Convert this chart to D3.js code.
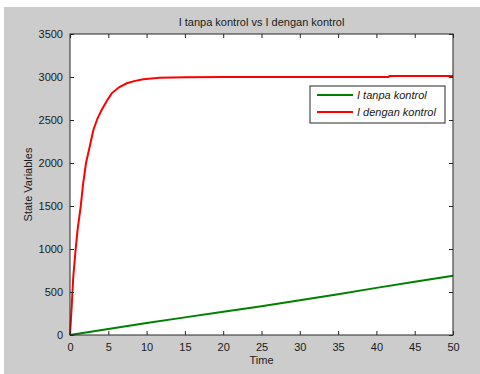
<!DOCTYPE html>
<html>
<head>
<meta charset="utf-8">
<script src="https://cdn.jsdelivr.net/npm/d3@7"></script>
<style>
  body { margin: 0; background: #fff; }
  text { font-family: "Liberation Sans", Arial, sans-serif; fill: #1a1a1a; }
</style>
</head>
<body>
<svg id="chart" width="480" height="374"></svg>
<script>
// data
var timeRed = [0, 0.22, 0.43, 0.74, 1.0, 1.39, 1.7, 2.09, 2.6, 3.05, 3.6, 4.13, 4.8, 5.44, 6.4, 7.4, 8.5, 9.57, 11.7, 15, 20, 25, 30, 35, 41.6, 41.7, 50];
var iDengan = [0, 330, 680, 1000, 1230, 1490, 1750, 2000, 2200, 2384, 2520, 2616, 2720, 2810, 2880, 2927, 2955, 2973, 2992, 2997, 3000, 3000, 3000, 3000, 3000, 3012, 3012];
var timeGreen = [0, 5, 10, 15, 20, 25, 30, 35, 40, 45, 50];
var iTanpa = [0, 70, 140, 205, 270, 335, 405, 475, 548, 620, 690];
var xTicks = [0, 5, 10, 15, 20, 25, 30, 35, 40, 45, 50];
var yTicks = [0, 500, 1000, 1500, 2000, 2500, 3000, 3500];
var seriesNames = ["I tanpa kontrol", "I dengan kontrol"];
var seriesColors = ["#008000", "#ff0000"];

var svg = d3.select("#chart");
var pLeft = 70, pRight = 453, pTop = 34, pBottom = 335;

svg.append("rect")
    .attr("x", 4).attr("y", 7)
    .attr("width", 476).attr("height", 367)
    .attr("fill", "#cccccc");

var x = d3.scaleLinear().domain([0, 50]).range([pLeft, pRight]);
var y = d3.scaleLinear().domain([0, 3500]).range([pBottom, pTop]);

svg.append("rect")
    .attr("x", pLeft).attr("y", pTop)
    .attr("width", pRight - pLeft).attr("height", pBottom - pTop)
    .attr("fill", "#fff");

// lines
var line = d3.line()
    .x(function(d) { return x(d[0]); })
    .y(function(d) { return y(d[1]); });

svg.append("path")
    .datum(d3.zip(timeGreen, iTanpa))
    .attr("d", line)
    .attr("fill", "none")
    .attr("stroke", seriesColors[0])
    .attr("stroke-width", 2);

svg.append("path")
    .datum(d3.zip(timeRed, iDengan))
    .attr("d", line)
    .attr("fill", "none")
    .attr("stroke", seriesColors[1])
    .attr("stroke-width", 2);

// axes, ticks inward on all four sides
var axisColor = "#262626";
function styleAxis(g) {
    g.select(".domain").remove();
    g.selectAll(".tick line").attr("stroke", axisColor);
    g.selectAll(".tick text")
        .style("font-size", "11px")
        .style("font-family", "Liberation Sans, Arial, sans-serif")
        .attr("fill", "#1a1a1a");
}

svg.append("g")
    .attr("transform", "translate(0," + pBottom + ")")
    .call(d3.axisBottom(x).tickValues(xTicks).tickSizeInner(-4).tickSizeOuter(0).tickPadding(8))
    .call(styleAxis);

svg.append("g")
    .attr("transform", "translate(0," + pTop + ")")
    .call(d3.axisTop(x).tickValues(xTicks).tickSizeInner(-4).tickSizeOuter(0).tickFormat(""))
    .call(styleAxis);

svg.append("g")
    .attr("transform", "translate(" + pLeft + ",0)")
    .call(d3.axisLeft(y).tickValues(yTicks).tickFormat(d3.format("d")).tickSizeInner(-4).tickSizeOuter(0).tickPadding(7))
    .call(styleAxis);

svg.append("g")
    .attr("transform", "translate(" + pRight + ",0)")
    .call(d3.axisRight(y).tickValues(yTicks).tickSizeInner(-4).tickSizeOuter(0).tickFormat(""))
    .call(styleAxis);

svg.append("rect")
    .attr("x", pLeft).attr("y", pTop)
    .attr("width", pRight - pLeft).attr("height", pBottom - pTop)
    .attr("fill", "none")
    .attr("stroke", axisColor)
    .attr("stroke-width", 1);

// titles
svg.append("text")
    .attr("x", (pLeft + pRight) / 2).attr("y", 26)
    .attr("text-anchor", "middle")
    .style("font-size", "11px")
    .text("I tanpa kontrol vs I dengan kontrol");

svg.append("text")
    .attr("x", (pLeft + pRight) / 2).attr("y", 364)
    .attr("text-anchor", "middle")
    .style("font-size", "11px")
    .text("Time");

svg.append("text")
    .attr("transform", "translate(32," + ((pTop + pBottom) / 2) + ") rotate(-90)")
    .attr("text-anchor", "middle")
    .style("font-size", "11px")
    .text("State Variables");

// legend
var legend = svg.append("g").attr("transform", "translate(310,86)");
legend.append("rect")
    .attr("width", 135).attr("height", 37)
    .attr("fill", "#fff")
    .attr("stroke", axisColor);

var item = legend.selectAll("g.item")
    .data(seriesNames)
    .enter()
    .append("g")
    .attr("class", "item")
    .attr("transform", function(d, i) { return "translate(0," + (9 + i * 17) + ")"; });

item.append("line")
    .attr("x1", 7).attr("x2", 43)
    .attr("stroke", function(d, i) { return seriesColors[i]; })
    .attr("stroke-width", 2);

item.append("text")
    .attr("x", 47).attr("y", 4)
    .style("font-size", "11px")
    .style("font-style", "italic")
    .text(function(d) { return d; });
</script>
</body>
</html>
